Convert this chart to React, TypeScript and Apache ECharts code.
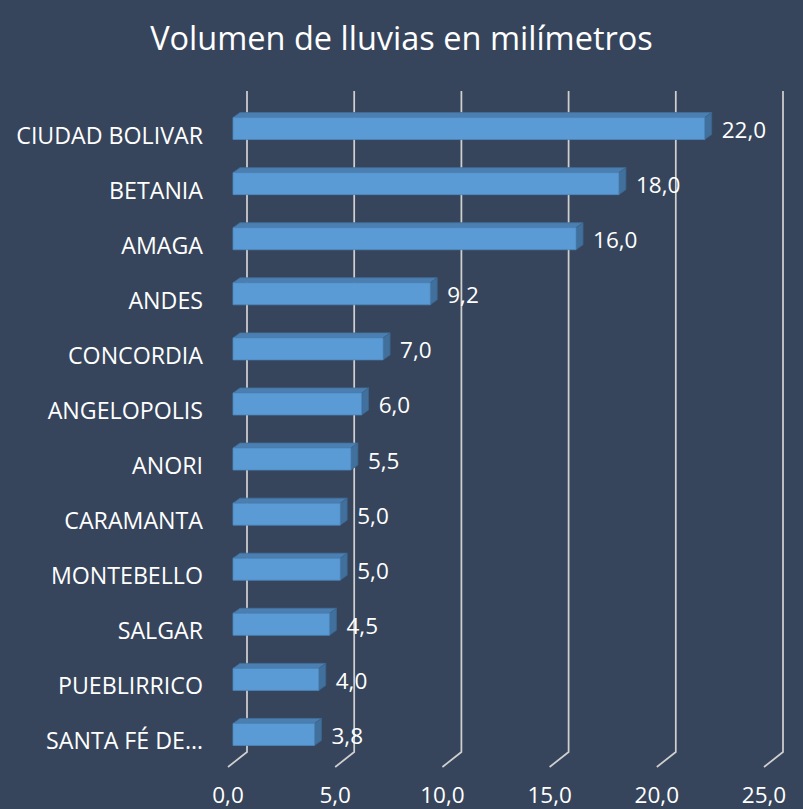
import React, { useEffect, useRef } from "react";
import * as echarts from "echarts";

const title = "Volumen de lluvias en milímetros";
const categories = [
  "CIUDAD BOLIVAR",
  "BETANIA",
  "AMAGA",
  "ANDES",
  "CONCORDIA",
  "ANGELOPOLIS",
  "ANORI",
  "CARAMANTA",
  "MONTEBELLO",
  "SALGAR",
  "PUEBLIRRICO",
  "SANTA FÉ DE…",
];
const values = [22.0, 18.0, 16.0, 9.2, 7.0, 6.0, 5.5, 5.0, 5.0, 4.5, 4.0, 3.8];
const ticks = [0, 5, 10, 15, 20, 25];

const FONT = "'Open Sans', sans-serif";
const BG = "#36455C";
const fmt = (v: number) => v.toFixed(1).replace(".", ",");

export default function App() {
  const ref = useRef<HTMLDivElement>(null);
  useEffect(() => {
    if (!ref.current) return;
    const chart = echarts.init(ref.current, null, { renderer: "svg" });
    const gridSeries = {
      type: "custom",
      silent: true,
      clip: false,
      z: 1,
      data: ticks.map((t) => [t, 0]),
      encode: { x: 0, y: 1 },
      renderItem: (params: any, api: any) => {
        const cs = params.coordSys;
        const x = api.coord([api.value(0), 0])[0];
        const bottom = cs.y + cs.height - 1;
        return {
          type: "polyline",
          shape: {
            points: [
              [x, bottom],
              [x + 19, bottom - 15],
              [x + 19, cs.y - 16],
            ],
          },
          style: { stroke: "#CFCFCF", lineWidth: 1.75, fill: "none" },
        };
      },
    };
    const barSeries = {
      type: "custom",
      clip: false,
      z: 2,
      data: values.map((v, i) => [v, i]),
      encode: { x: 0, y: 1 },
      renderItem: (params: any, api: any) => {
        const idx = api.value(1);
        const v = api.value(0);
        const p0 = api.coord([0, idx]);
        const p1 = api.coord([v, idx]);
        const yc = p0[1];
        const x0 = p0[0] + 5;
        const x1 = p1[0] + 5;
        const yt = yc - 17;
        const yb = yc + 5;
        const dx = 7;
        const dy = 5;
        return {
          type: "group",
          children: [
            {
              type: "polygon",
              shape: {
                points: [
                  [x0, yt],
                  [x1, yt],
                  [x1 + dx, yt - dy],
                  [x0 + dx, yt - dy],
                ],
              },
              style: { fill: "#4C7FB1", stroke: "#41709C", lineWidth: 0.8 },
            },
            {
              type: "polygon",
              shape: {
                points: [
                  [x1, yt],
                  [x1 + dx, yt - dy],
                  [x1 + dx, yb - dy],
                  [x1, yb],
                ],
              },
              style: { fill: "#40709B", stroke: "#3A6690", lineWidth: 0.8 },
            },
            {
              type: "rect",
              shape: { x: x0, y: yt, width: x1 - x0, height: yb - yt },
              style: { fill: "#5B9BD5", stroke: "#4D87BC", lineWidth: 0.8 },
            },
            {
              type: "text",
              z2: 10,
              style: {
                text: fmt(v),
                x: p1[0] + 22,
                y: yc - 5,
                fill: "#FFFFFF",
                fontSize: 22.5,
                fontFamily: FONT,
                align: "left",
                verticalAlign: "middle",
              },
            },
          ],
        };
      },
    };
    chart.setOption({
      animation: false,
      backgroundColor: BG,
      title: {
        text: title,
        left: "center",
        top: 16,
        textStyle: {
          color: "#FFFFFF",
          fontSize: 32.5,
          fontWeight: "normal",
          fontFamily: FONT,
        },
      },
      grid: { left: 228, right: 39, top: 107, bottom: 41, containLabel: false },
      xAxis: {
        type: "value",
        min: 0,
        max: 25,
        interval: 5,
        axisLine: { show: false },
        axisTick: { show: false },
        splitLine: { show: false },
        axisLabel: {
          color: "#FFFFFF",
          fontSize: 22.5,
          fontFamily: FONT,
          margin: 15,
          formatter: (v: number) => fmt(v),
        },
      },
      yAxis: {
        type: "category",
        data: categories,
        inverse: true,
        axisLine: { show: false },
        axisTick: { show: false },
        splitLine: { show: false },
        axisLabel: {
          color: "#FFFFFF",
          fontSize: 23.2,
          fontFamily: FONT,
          margin: 25,
        },
      },
      series: [gridSeries, barSeries],
    });
    return () => chart.dispose();
  }, []);
  return (
    <div
      ref={ref}
      style={{ position: "fixed", left: 0, top: 0, width: 803, height: 809 }}
    />
  );
}
